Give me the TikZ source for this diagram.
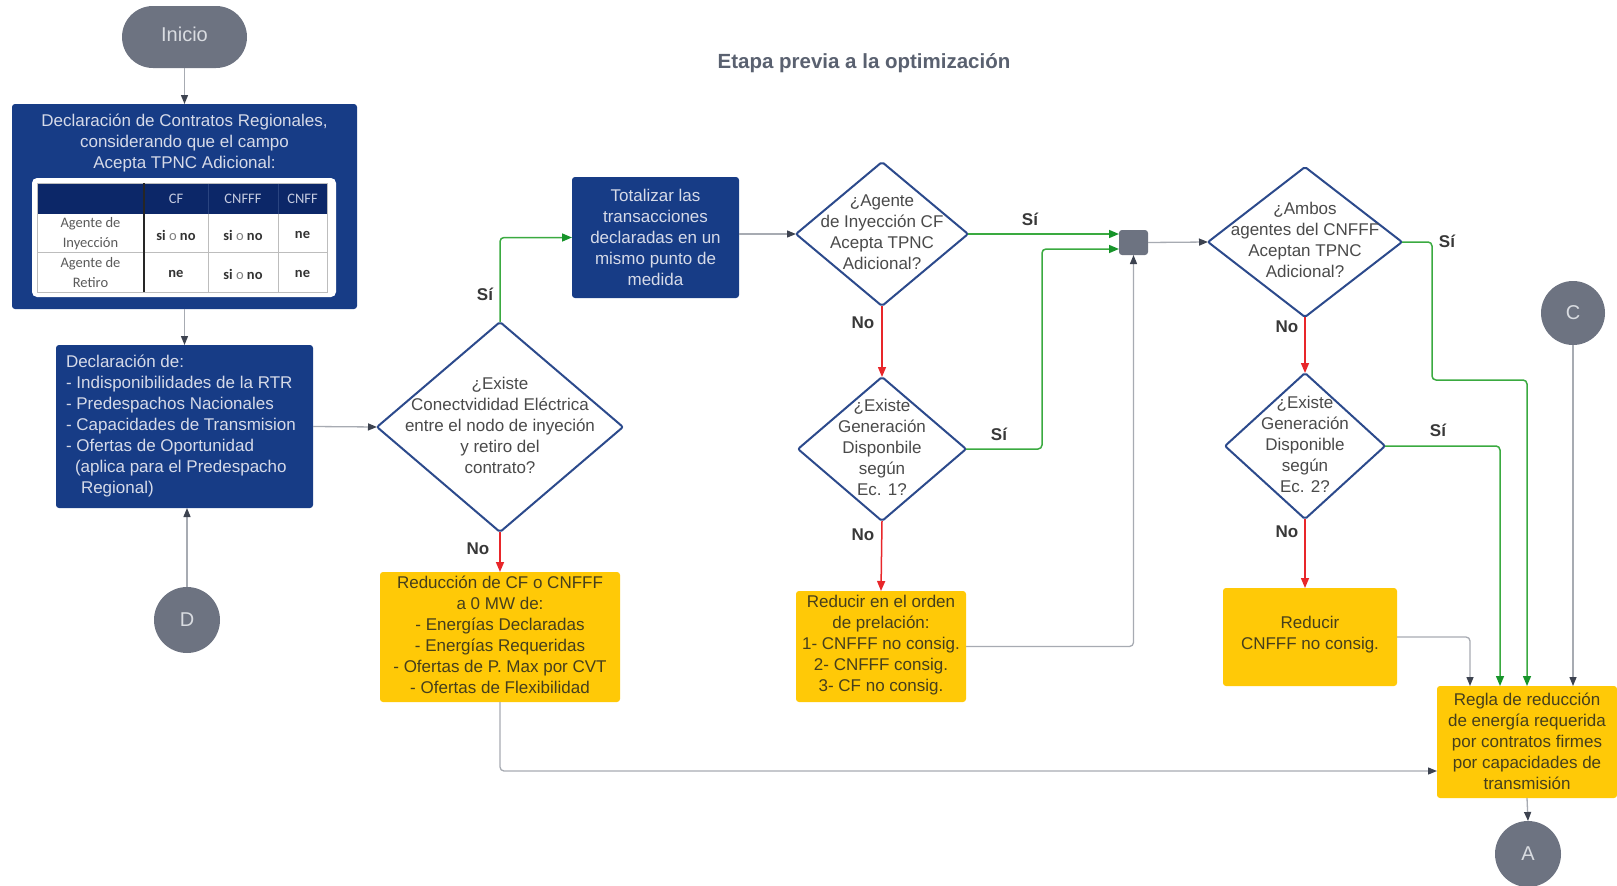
\documentclass[tikz,border=0pt]{standalone}
\usepackage{fontspec}
\setmainfont{Liberation Sans}
\newfontfamily\calib{Carlito}
\usetikzlibrary{arrows.meta,shapes.geometric,calc}

\definecolor{dblue}{HTML}{173C86}
\definecolor{navy}{HTML}{0C2768}
\definecolor{navysep}{HTML}{2A4480}
\definecolor{boxtxt}{HTML}{D6DAE8}
\definecolor{hdtxt}{HTML}{C5CBE0}
\definecolor{dborder}{HTML}{2C4A8C}
\definecolor{dtxt}{HTML}{4A4A4A}
\definecolor{yel}{HTML}{FFC907}
\definecolor{ytxt}{HTML}{463F1C}
\definecolor{gcirc}{HTML}{6D7381}
\definecolor{ctxt}{HTML}{D9DCE1}
\definecolor{gline}{HTML}{A7ABB2}
\definecolor{ghead}{HTML}{3D4350}
\definecolor{grn}{HTML}{3AAA40}
\definecolor{grnhead}{HTML}{17942A}
\definecolor{rd}{HTML}{E8262A}
\definecolor{lbl}{HTML}{383838}
\definecolor{ttl}{HTML}{5A6170}
\definecolor{tgrid}{HTML}{BDBDBD}
\definecolor{ttxt}{HTML}{5A5A5A}

\begin{document}
\begin{tikzpicture}[x=1pt,y=-1pt,
 every node/.style={inner sep=0pt, outer sep=0pt},
 txt/.style={font=\fontsize{17pt}{21pt}\selectfont, align=center},
 bluebox/.style={fill=dblue, rounded corners=3pt},
 yelbox/.style={fill=yel, rounded corners=3pt},
 dec/.style={diamond, draw=dborder, line width=2pt, fill=white, rounded corners=2pt},
 circ/.style={circle, fill=gcirc, text=ctxt, font=\fontsize{20pt}{24pt}\selectfont},
 gconn/.style={draw=gline, line width=1.3pt, rounded corners=4pt, -{Triangle[length=9pt,width=7pt,color=ghead]}},
 grconn/.style={draw=grn, line width=1.5pt, rounded corners=4pt, -{Triangle[length=10pt,width=8pt,color=grnhead]}},
 rconn/.style={draw=rd, line width=1.5pt, -{Triangle[length=10pt,width=8pt,color=rd]}},
 yn/.style={font=\bfseries\fontsize{17pt}{21pt}\selectfont, text=lbl},
 hd/.style={font=\calib\fontsize{14.5pt}{20pt}\selectfont, text=hdtxt},
 cell/.style={font=\calib\fontsize{14.5pt}{20pt}\selectfont, text=ttxt, align=center},
 val/.style={font=\calib\bfseries\fontsize{14.5pt}{20pt}\selectfont, text=black!80},
]
\useasboundingbox (0,0) rectangle (1617,886);

% start and title
\node[fill=gcirc, rounded corners=31pt, minimum width=125pt, minimum height=62pt] (inicio) at (184.5,37) {};
\node[text=ctxt, font=\fontsize{20pt}{24pt}\selectfont] (iniciot) at (184.5,34) {Inicio};
\node[font=\bfseries\fontsize{20.5pt}{24pt}\selectfont, text=ttl] (title) at (864,63.5) {Etapa previa a la optimización};

% box 1 with table
\node[bluebox, minimum width=345pt, minimum height=205pt] (box1) at (184.5,206.5) {};
\node[txt, text=boxtxt] (box1t) at (184.5,143.5) {Declaración de Contratos Regionales,\\considerando que el campo\\Acepta TPNC Adicional:};
\node[fill=white, rounded corners=5pt, minimum width=304pt, minimum height=119pt] (tframe) at (184,237.5) {};
\node[fill=navy, minimum width=290pt, minimum height=31pt] (thead) at (182,198.5) {};
\draw[navysep, line width=0.8pt] (208,183) -- (208,214) (278,183) -- (278,214);
\draw[tgrid, line width=0.8pt] (37,183) rectangle (327,292);
\draw[tgrid, line width=0.8pt] (37,252) -- (327,252) (208,214) -- (208,292) (278,214) -- (278,292);
\draw[black!85, line width=1.6pt] (144,183) -- (144,292);
\node[hd] (hcf) at (176,199) {CF};
\node[hd] (hcnfff) at (243,199) {CNFFF};
\node[hd] (hcnff) at (302.5,199) {CNFF};
\node[cell] (r1) at (90.5,234) {Agente de\\Inyección};
\node[cell] (r2) at (90.5,273) {Agente de\\Retiro};
\node[val] (c11) at (176,235) {si {\mdseries\color{gray}o} no};
\node[val] (c12) at (243,235) {si {\mdseries\color{gray}o} no};
\node[val] (c13) at (302.5,235) {ne};
\node[val] (c21) at (176,274) {ne};
\node[val] (c22) at (243,274) {si {\mdseries\color{gray}o} no};
\node[val] (c23) at (302.5,274) {ne};

% box 2
\node[bluebox, minimum width=257pt, minimum height=163pt] (box2) at (184.5,426.5) {};
\node[txt, align=left, text=boxtxt, anchor=west] (box2t) at (66,426) {Declaración de:\\- Indisponibilidades de la RTR\\- Predespachos Nacionales\\- Capacidades de Transmision\\- Ofertas de Oportunidad\\\hspace*{9pt}(aplica para el Predespacho\\\hspace*{15pt}Regional)};

\node[circ, minimum size=66pt] (D) at (187,620) {D};

% decision 1
\node[dec, minimum width=246pt, minimum height=210pt] (d1) at (500,427) {};
\node[txt, text=dtxt] (d1t) at (500,425) {¿Existe\\Conectvididad Eléctrica\\entre el nodo de inyeción\\y retiro del\\contrato?};

% totalizar
\node[bluebox, minimum width=167pt, minimum height=121pt] (tot) at (655.5,237.5) {};
\node[txt, text=boxtxt] (tott) at (655.5,237) {Totalizar las\\transacciones\\declaradas en un\\mismo punto de\\medida};

% decision 2, 3
\node[dec, minimum width=172pt, minimum height=144pt] (d2) at (882,234) {};
\node[txt, text=dtxt] (d2t) at (882,232.5) {¿Agente\\de Inyección CF\\Acepta TPNC\\Adicional?};
\node[dec, minimum width=168pt, minimum height=144pt] (d3) at (882,449) {};
\node[txt, text=dtxt] (d3t) at (882,447) {¿Existe\\Generación\\Disponbile\\según\\Ec. 1?};

% junction
\node[fill=gcirc, rounded corners=3pt, minimum width=29pt, minimum height=25pt] (junc) at (1133.5,242.5) {};

% decision 4, 5
\node[dec, minimum width=194pt, minimum height=150pt] (d4) at (1305,242) {};
\node[txt, text=dtxt] (d4t) at (1305,240) {¿Ambos\\agentes del CNFFF\\Aceptan TPNC\\Adicional?};
\node[dec, minimum width=160pt, minimum height=146pt] (d5) at (1305,446) {};
\node[txt, text=dtxt] (d5t) at (1305,444) {¿Existe\\Generación\\Disponible\\según\\Ec. 2?};

\node[circ, minimum size=64pt] (C) at (1573,313) {C};

% yellow boxes
\node[yelbox, minimum width=240pt, minimum height=130pt] (reduc) at (500,637) {};
\node[txt, text=ytxt] (reduct) at (500,635) {Reducción de CF o CNFFF\\a 0 MW de:\\- Energías Declaradas\\- Energías Requeridas\\- Ofertas de P. Max por CVT\\- Ofertas de Flexibilidad};
\node[yelbox, minimum width=170pt, minimum height=111pt] (redord) at (881,646.5) {};
\node[txt, text=ytxt] (redordt) at (881,645) {Reducir en el orden\\de prelación:\\1- CNFFF no consig.\\2- CNFFF consig.\\3- CF no consig.};
\node[yelbox, minimum width=174pt, minimum height=98pt] (redcn) at (1310,637) {};
\node[txt, text=ytxt] (redcnt) at (1310,635) {Reducir\\CNFFF no consig.};
\node[yelbox, minimum width=180pt, minimum height=112pt] (regla) at (1527,742) {};
\node[txt, text=ytxt] (reglat) at (1527,741) {Regla de reducción\\de energía requerida\\por contratos firmes\\por capacidades de\\transmisión};

\node[circ, minimum size=66pt] (A) at (1528,854) {A};

% connectors
\draw[gconn] (inicio.south) -- (box1.north);
\draw[gconn] (box1.south) -- (box2.north);
\draw[gconn] (box2.east) -- (d1.west);
\draw[gconn] (D.north) -- (D.north |- box2.south);
\draw[grconn] (d1.north) |- (tot.west);
\draw[gconn] (tot.east |- d2.west) -- (d2.west);
\draw[grconn] (d2.east) -- (d2.east -| junc.west);
\draw[grconn] (d3.east) -| ($(junc.west)+(-77,6.5)$) -- ($(junc.west)+(0,6.5)$);
\draw[gconn] (junc.east) -- (d4.west);
\draw[rconn] (d2.south) -- (d3.north);
\draw[rconn] (d3.south) -- (redord.north);
\draw[gconn] (redord.east) -| (junc.south);
\draw[rconn] (d1.south) -- (reduc.north);
\draw[gconn] (reduc.south) |- ($(regla.west)+(0,29)$);
\draw[grconn] (d4.east) -| ($(d4.east)+(30,138)$) -| (regla.north);
\draw[grconn] (d5.east) -| ($(regla.north)+(-27,0)$);
\draw[rconn] (d4.south) -- (d5.north);
\draw[rconn] (d5.south) -- (d5.south |- redcn.north);
\draw[gconn] (redcn.east) -| ($(regla.north)+(-57,0)$);
\draw[gconn] (C.south) -- (C.south |- regla.north);
\draw[gconn] (regla.south) -- (A.north);

% labels
\node[yn] (l1) at (485,294) {Sí};
\node[yn] (l2) at (478,549) {No};
\node[yn] (l3) at (1030,219) {Sí};
\node[yn] (l4) at (863,323) {No};
\node[yn] (l5) at (999,434) {Sí};
\node[yn] (l6) at (863,535) {No};
\node[yn] (l7) at (1447,241) {Sí};
\node[yn] (l8) at (1287,327) {No};
\node[yn] (l9) at (1438,430) {Sí};
\node[yn] (l10) at (1287,532) {No};
\end{tikzpicture}
\end{document}
